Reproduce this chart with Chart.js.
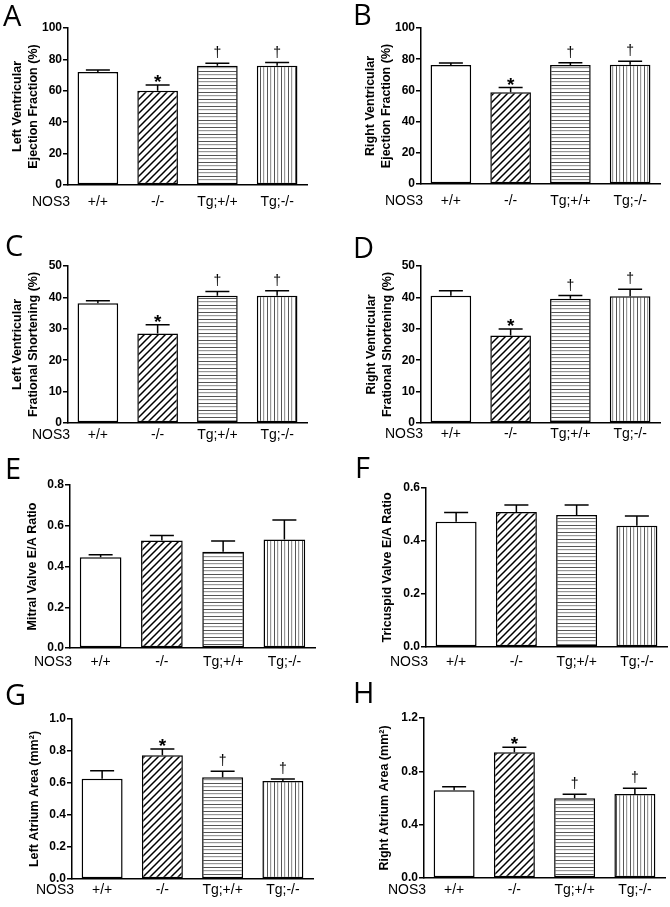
<!DOCTYPE html>
<html>
<head>
<meta charset="utf-8">
<script src="https://cdn.jsdelivr.net/npm/chart.js@4.4.0/dist/chart.umd.min.js"></script>
<style>
  body { margin: 0; background: #fff; width: 670px; height: 907px; overflow: hidden; position: relative; }
  canvas { position: absolute; }
</style>
</head>
<body>
<script>
// groups on the x axis
var categories = ['+/+', '-/-', 'Tg;+/+', 'Tg;-/-'];

// means and SEM
var lvefMean = [72, 60, 76, 76];
var lvefSem = [1.3, 3.7, 1.5, 2.0];
var rvefMean = [76.3, 58.8, 76.3, 76.5];
var rvefSem = [1.3, 3.0, 1.4, 2.2];
var lvfsMean = [38.1, 28.5, 40.5, 40.5];
var lvfsSem = [0.8, 2.8, 1.4, 1.6];
var rvfsMean = [40.5, 27.9, 39.6, 40.4];
var rvfsSem = [1.6, 2.0, 1.0, 2.2];
var mvMean = [0.445, 0.527, 0.473, 0.533];
var mvSem = [0.013, 0.025, 0.052, 0.095];
var tvMean = [0.473, 0.509, 0.498, 0.458];
var tvSem = [0.035, 0.027, 0.038, 0.036];
var laMean = [0.627, 0.773, 0.636, 0.613];
var laSem = [0.05, 0.04, 0.037, 0.012];
var raMean = [0.658, 0.943, 0.598, 0.63];
var raSem = [0.026, 0.037, 0.03, 0.043];

// significance marks above bars
var sigMarks = ['', '*', '\u2020', '\u2020'];
var noMarks = ['', '', '', ''];

// y tick labels
var efTicks = [0, 20, 40, 60, 80, 100];
var fsTicks = [0, 10, 20, 30, 40, 50];
var mvTicks = [0, 0.2, 0.4, 0.6, 0.8];
var tvTicks = [0, 0.2, 0.4, 0.6];
var laTicks = [0, 0.2, 0.4, 0.6, 0.8, 1.0];
var raTicks = [0, 0.4, 0.8, 1.2];

// panel placement on the page
var panels = [
  { letter: 'A', col: 0, top: 0, h: 245, L: 68, R: 307, T: 28, B: 185, titleX: 18, labOff: 17, lp: [3, 26],
    title: ['Left Ventricular', 'Ejection Fraction (%)'], mean: lvefMean, sem: lvefSem, ticks: efTicks, dec: 0, marks: sigMarks },
  { letter: 'B', col: 1, top: 0, h: 245, L: 421, R: 660, T: 28, B: 184, titleX: 36, labOff: 17, lp: [18, 25],
    title: ['Right Ventricular', 'Ejection Fraction (%)'], mean: rvefMean, sem: rvefSem, ticks: efTicks, dec: 0, marks: sigMarks },
  { letter: 'C', col: 0, top: 220, h: 245, L: 68, R: 307, T: 266, B: 423, titleX: 18, labOff: 12, lp: [5, 36],
    title: ['Left Ventricular', 'Frational Shortening (%)'], mean: lvfsMean, sem: lvfsSem, ticks: fsTicks, dec: 0, marks: sigMarks },
  { letter: 'D', col: 1, top: 220, h: 245, L: 421, R: 660, T: 266, B: 423, titleX: 37, labOff: 11, lp: [18, 38],
    title: ['Right Ventricular', 'Frational Shortening (%)'], mean: rvfsMean, sem: rvfsSem, ticks: fsTicks, dec: 0, marks: sigMarks },
  { letter: 'E', col: 0, top: 440, h: 255, L: 70, R: 315, T: 485, B: 648, titleX: 33, labOff: 14, lp: [5, 39],
    title: 'Mitral Valve E/A Ratio', mean: mvMean, sem: mvSem, ticks: mvTicks, dec: 1, marks: noMarks },
  { letter: 'F', col: 1, top: 440, h: 255, L: 426, R: 667, T: 488, B: 647, titleX: 53, labOff: 15, lp: [20, 38],
    title: 'Tricuspid Valve E/A Ratio', mean: tvMean, sem: tvSem, ticks: tvTicks, dec: 1, marks: noMarks },
  { letter: 'G', col: 0, top: 670, h: 237, L: 72, R: 313, T: 719, B: 879, titleX: 35, labOff: 11, lp: [5, 35],
    title: 'Left Atrium Area (mm\u00b2)', mean: laMean, sem: laSem, ticks: laTicks, dec: 1, marks: sigMarks },
  { letter: 'H', col: 1, top: 670, h: 237, L: 424, R: 665, T: 718, B: 878, titleX: 50, labOff: 12, lp: [18, 33],
    title: 'Right Atrium Area (mm\u00b2)', mean: raMean, sem: raSem, ticks: raTicks, dec: 1, marks: sigMarks }
];

var FONT = '"Liberation Sans", Arial, sans-serif';

function makePattern(ctx, kind) {
  var c = document.createElement('canvas');
  c.width = 7; c.height = 7;
  var g = c.getContext('2d');
  g.fillStyle = '#fff';
  g.fillRect(0, 0, 7, 7);
  if (kind === 'diag') {
    g.strokeStyle = '#000';
    g.lineWidth = 1.5;
    g.beginPath();
    g.moveTo(-1, 8); g.lineTo(8, -1);
    g.moveTo(-1, 1); g.lineTo(1, -1);
    g.moveTo(6, 8); g.lineTo(8, 6);
    g.stroke();
  } else if (kind === 'horiz') {
    g.fillStyle = '#555';
    g.fillRect(0, 1, 7, 1);
    g.fillStyle = '#999';
    g.fillRect(0, 4, 7, 1.2);
  } else {
    g.fillStyle = '#555';
    g.fillRect(1, 0, 1, 7);
    g.fillStyle = '#999';
    g.fillRect(4, 0, 1.2, 7);
  }
  return ctx.createPattern(c, 'repeat');
}

// letter, NOS3, error bars and marks
var extras = {
  id: 'extras',
  afterDatasetsDraw: function (chart, args, opts) {
    var ctx = chart.ctx;
    var y = chart.scales.y;
    var meta = chart.getDatasetMeta(0);
    ctx.save();
    ctx.strokeStyle = '#000';
    ctx.lineWidth = 1.5;
    opts.mean.forEach(function (v, i) {
      var cx = meta.data[i].x;
      var y0 = y.getPixelForValue(v);
      var y1 = y.getPixelForValue(v + opts.sem[i]);
      ctx.beginPath();
      ctx.moveTo(cx, y0);
      ctx.lineTo(cx, y1);
      ctx.moveTo(cx - 12, y1);
      ctx.lineTo(cx + 12, y1);
      ctx.stroke();
      var m = opts.marks[i];
      ctx.fillStyle = '#000';
      ctx.textAlign = 'center';
      ctx.textBaseline = 'alphabetic';
      if (m === '*') {
        ctx.font = 'bold 19px ' + FONT;
        ctx.fillText(m, cx, y1 + 3);
      } else if (m) {
        ctx.font = '14px ' + FONT;
        ctx.fillText(m, cx, y1 - 6);
      }
    });
    ctx.fillStyle = '#000';
    ctx.font = '14px ' + FONT;
    ctx.textAlign = 'right';
    ctx.textBaseline = 'middle';
    ctx.fillText('NOS3', chart.chartArea.left + 2, chart.chartArea.bottom + opts.labOff);
    ctx.font = '29px "Open Sans", sans-serif';
    ctx.textAlign = 'left';
    ctx.textBaseline = 'alphabetic';
    ctx.fillText(opts.letter, opts.lp[0], opts.lp[1]);
    ctx.restore();
  }
};

panels.forEach(function (p) {
  var cv = document.createElement('canvas');
  cv.width = 335; cv.height = p.h;
  cv.style.left = (p.col * 335) + 'px';
  cv.style.top = p.top + 'px';
  cv.style.width = '335px';
  cv.style.height = p.h + 'px';
  document.body.appendChild(cv);
  var ctx = cv.getContext('2d');
  var offX = p.col * 335;
  var yWidth = p.L - offX;
  var xHeight = p.h - (p.B - p.top);

  new Chart(ctx, {
    type: 'bar',
    data: {
      labels: categories,
      datasets: [{
        data: p.mean,
        backgroundColor: ['#fff', makePattern(ctx, 'diag'), makePattern(ctx, 'horiz'), makePattern(ctx, 'vert')],
        borderColor: '#000',
        borderWidth: 1.5,
        borderSkipped: false,
        barPercentage: 0.68,
        categoryPercentage: 1
      }]
    },
    options: {
      responsive: false,
      animation: false,
      events: [],
      layout: { padding: { left: 0, top: p.T - p.top, right: 335 - (p.R - offX), bottom: 0 } },
      plugins: {
        legend: { display: false },
        tooltip: { enabled: false },
        extras: { mean: p.mean, sem: p.sem, marks: p.marks, letter: p.letter, lp: p.lp, labOff: p.labOff }
      },
      scales: {
        x: {
          grid: { display: false, drawTicks: false },
          border: { display: true, color: '#000', width: 1.5 },
          ticks: { color: '#000', font: { family: FONT, size: 14 }, padding: p.labOff - 8.4, maxRotation: 0 },
          afterFit: function (s) { s.height = xHeight; }
        },
        y: {
          min: p.ticks[0],
          max: p.ticks[p.ticks.length - 1],
          afterBuildTicks: function (s) { s.ticks = p.ticks.map(function (v) { return { value: v }; }); },
          grid: { drawOnChartArea: false, drawTicks: true, tickLength: 5, color: '#000', lineWidth: 1.5 },
          border: { display: true, color: '#000', width: 1.5 },
          ticks: {
            color: '#000', padding: 1,
            font: { family: FONT, size: 12, weight: 'bold' },
            callback: function (v) { return Number(v).toFixed(p.dec); }
          },
          title: {
            display: true, text: p.title, color: '#000',
            font: { family: FONT, size: 12.5, weight: 'bold', lineHeight: 1.25 },
            padding: { top: p.titleX - 7.8, bottom: 0 }
          },
          afterFit: function (s) { s.width = yWidth; }
        }
      }
    },
    plugins: [extras]
  });
});
</script>
</body>
</html>
